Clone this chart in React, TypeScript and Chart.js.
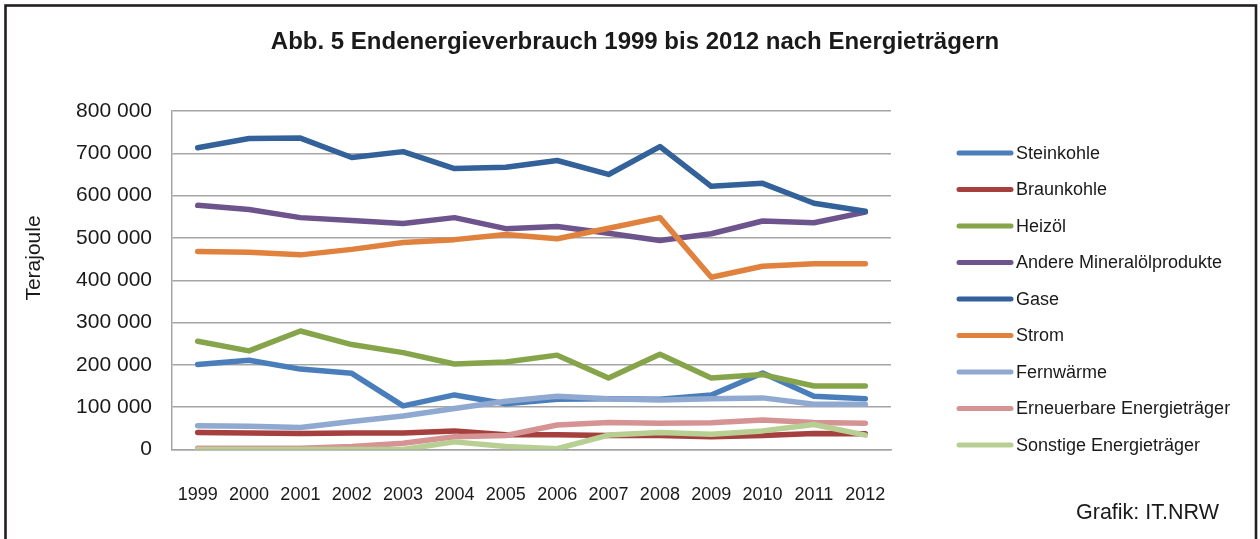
import React, { useEffect, useRef } from "react";
import { Chart, registerables } from "chart.js";

Chart.register(...registerables);

const years = ["1999", "2000", "2001", "2002", "2003", "2004", "2005", "2006", "2007", "2008", "2009", "2010", "2011", "2012"];

const steinkohle = [201000, 211000, 190000, 180000, 103000, 129000, 108000, 119000, 120000, 119000, 129000, 181000, 126000, 120000];
const braunkohle = [40000, 39000, 38000, 39000, 39000, 44000, 35000, 35000, 33000, 33000, 30000, 33000, 38000, 37000];
const heizoel = [256000, 233000, 280000, 248000, 229000, 202000, 207000, 223000, 169000, 225000, 169000, 177000, 150000, 150000];
const andereMineraloel = [577000, 567000, 548000, 541000, 534000, 548000, 522000, 527000, 511000, 494000, 510000, 540000, 536000, 561000];
const gase = [713000, 735000, 736000, 690000, 704000, 664000, 667000, 683000, 650000, 716000, 622000, 629000, 582000, 563000];
const strom = [468000, 466000, 460000, 473000, 489000, 496000, 508000, 498000, 523000, 548000, 407000, 433000, 439000, 439000];
const fernwaerme = [56000, 55000, 52000, 66000, 79000, 97000, 114000, 126000, 120000, 117000, 120000, 122000, 107000, 107000];
const erneuerbare = [3000, 3000, 3000, 7000, 15000, 30000, 33000, 58000, 64000, 62000, 63000, 70000, 64000, 62000];
const sonstige = [0, 0, 0, 0, 0, 18000, 7000, 2000, 34000, 40000, 36000, 44000, 59000, 34000];

const seriesNames = [
  "Steinkohle",
  "Braunkohle",
  "Heizöl",
  "Andere Mineralölprodukte",
  "Gase",
  "Strom",
  "Fernwärme",
  "Erneuerbare Energieträger",
  "Sonstige Energieträger",
];
const seriesValues = [steinkohle, braunkohle, heizoel, andereMineraloel, gase, strom, fernwaerme, erneuerbare, sonstige];
const seriesColors = ["#4A7EBB", "#A5403E", "#86A44A", "#6E548D", "#336199", "#E0823D", "#8FA9D0", "#D59493", "#B7CF93"];

const yTicks = [0, 100000, 200000, 300000, 400000, 500000, 600000, 700000, 800000];

const titleText = "Abb. 5 Endenergieverbrauch 1999 bis 2012 nach Energieträgern";
const yAxisTitle = "Terajoule";
const sourceText = "Grafik: IT.NRW";

const FONT = "'Liberation Sans', Arial, sans-serif";

function formatThousands(v: number): string {
  return String(v).replace(/\B(?=(\d{3})+(?!\d))/g, " ");
}

const decorPlugin = {
  id: "decor",
  beforeDraw(chart: any) {
    const ctx = chart.ctx;
    ctx.save();
    ctx.fillStyle = "#ffffff";
    ctx.fillRect(0, 0, chart.width, chart.height);
    ctx.restore();
  },
  afterDraw(chart: any) {
    const ctx = chart.ctx;
    ctx.save();
    // frame
    ctx.strokeStyle = "#231F20";
    ctx.lineWidth = 2.6;
    ctx.strokeRect(5.5, 5.5, 1250.5, 560);
    // title
    ctx.fillStyle = "#1a1a1a";
    ctx.font = `bold 24px ${FONT}`;
    ctx.textAlign = "center";
    ctx.textBaseline = "middle";
    ctx.fillText(titleText, 635, 42);
    // y axis title
    ctx.save();
    ctx.translate(34, 258);
    ctx.rotate(-Math.PI / 2);
    ctx.font = `21px ${FONT}`;
    ctx.fillStyle = "#1a1a1a";
    ctx.fillText(yAxisTitle, 0, 0);
    ctx.restore();
    // legend
    const ds = chart.data.datasets;
    ctx.font = `18px ${FONT}`;
    ctx.textAlign = "left";
    ctx.textBaseline = "middle";
    for (let i = 0; i < ds.length; i++) {
      const y = 153 + i * 36.5;
      ctx.strokeStyle = ds[i].borderColor;
      ctx.lineWidth = 5;
      ctx.lineCap = "round";
      ctx.beginPath();
      ctx.moveTo(959, y);
      ctx.lineTo(1011, y);
      ctx.stroke();
      ctx.fillStyle = "#1a1a1a";
      ctx.fillText(ds[i].label, 1016, y + 1);
    }
    // source
    ctx.font = `21.5px ${FONT}`;
    ctx.textAlign = "left";
    ctx.fillText(sourceText, 1076, 513);
    ctx.restore();
  },
};

export default function App() {
  const canvasRef = useRef<HTMLCanvasElement | null>(null);

  useEffect(() => {
    if (!canvasRef.current) return;
    const n = seriesNames.length;
    const chart = new Chart(canvasRef.current, {
      type: "line",
      data: {
        labels: years,
        datasets: seriesNames.map((name, i) => ({
          label: name,
          data: seriesValues[i],
          borderColor: seriesColors[i],
          backgroundColor: seriesColors[i],
          borderWidth: 5.5,
          borderCapStyle: "round" as const,
          borderJoinStyle: "round" as const,
          pointRadius: 0,
          pointHoverRadius: 0,
          tension: 0,
          fill: false,
          order: n - i,
        })),
      },
      options: {
        responsive: false,
        animation: false,
        devicePixelRatio: 1,
        layout: { padding: { top: 111, right: 369, bottom: 0, left: 0 } },
        plugins: {
          legend: { display: false },
          title: { display: false },
          tooltip: { enabled: false },
        },
        scales: {
          x: {
            offset: true,
            grid: { display: false, drawTicks: false },
            border: { display: true, color: "#A5A5A5", width: 1.5 },
            ticks: {
              padding: 35,
              color: "#1a1a1a",
              font: { family: FONT, size: 18 },
              maxRotation: 0,
              autoSkip: false,
            },
            afterFit: (scale: any) => {
              scale.height = 89.5;
            },
          },
          y: {
            min: 0,
            max: 800000,
            afterBuildTicks: (scale: any) => {
              scale.ticks = yTicks.map((v) => ({ value: v }));
            },
            grid: { color: "#A5A5A5", lineWidth: 1.5, drawTicks: false },
            border: { display: true, color: "#A5A5A5", width: 1.5 },
            ticks: {
              padding: 20,
              color: "#1a1a1a",
              font: { family: FONT, size: 21 },
              callback: (v: any) => formatThousands(Number(v)),
            },
            afterFit: (scale: any) => {
              scale.width = 172;
            },
          },
        },
      },
      plugins: [decorPlugin],
    });
    return () => chart.destroy();
  }, []);

  return (
    <div style={{ position: "fixed", left: 0, top: 0, width: 1260, height: 539, background: "#fff" }}>
      <canvas ref={canvasRef} width={1260} height={539} style={{ width: 1260, height: 539, display: "block" }} />
    </div>
  );
}
